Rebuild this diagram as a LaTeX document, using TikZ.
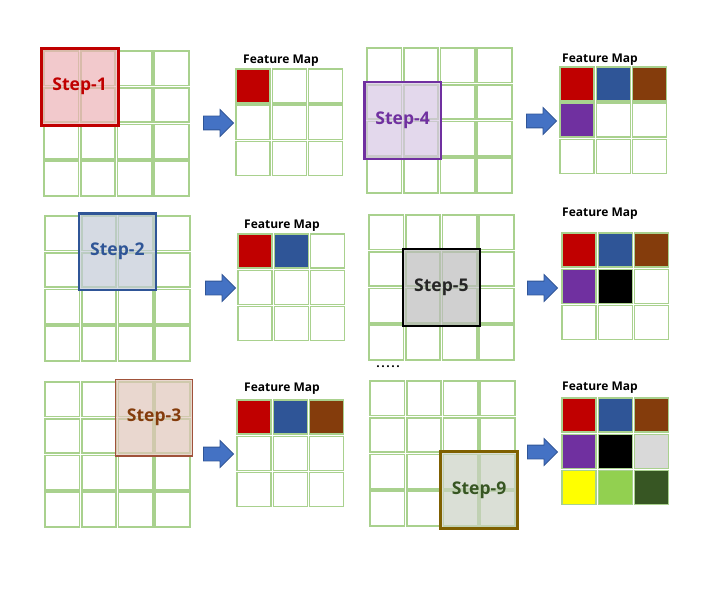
\documentclass[tikz,border=0pt]{standalone}
\usepackage{fontspec}
\setmainfont{Open Sans}
\usetikzlibrary{positioning, fit, shapes.arrows}

\definecolor{cellgreen}{HTML}{A9D18E}
\definecolor{fmred}{HTML}{C00000}
\definecolor{fmblue}{HTML}{2F5597}
\definecolor{fmbrown}{HTML}{843C0C}
\definecolor{fmpurple}{HTML}{7030A0}
\definecolor{fmgray}{HTML}{D9D9D9}
\definecolor{fmyellow}{HTML}{FFFF00}
\definecolor{fmlime}{HTML}{92D050}
\definecolor{fmdark}{HTML}{375623}
\definecolor{arrowblue}{HTML}{4472C4}
\definecolor{arrowedge}{HTML}{2F5597}
\definecolor{olive9}{HTML}{7F6000}
\definecolor{edge3}{HTML}{A0523A}

\begin{document}
\begin{tikzpicture}[
    x=1pt, y=-1pt,
    cell/.style={draw=cellgreen, line width=1.6pt, minimum size=34.5pt, inner sep=0pt},
    fmcell/.style={draw=cellgreen, line width=1.6pt, minimum size=34pt, inner sep=0pt},
    fmlabel/.style={font=\bfseries\fontsize{12}{14}\selectfont, inner sep=0pt},
    stepbox/.style={inner sep=2pt, line width=2.6pt, fill opacity=0.7},
    steptext/.style={font=\bfseries\fontsize{17.5}{20}\selectfont, fill opacity=1, text opacity=1},
    slide/.style={single arrow, draw=arrowedge, fill=arrowblue, line width=0.8pt, minimum height=30pt, inner xsep=0pt, inner ysep=6.5pt, single arrow head extend=6.5pt}
]
    \useasboundingbox (0,0) rectangle (709,591);

    % --- Input grids, feature maps and arrows ---
    \foreach \p/\gx/\gy/\fx/\fy/\lx/\ly/\ax/\ay in {
        1/44/51/236/69/281/61/215/123,
        2/45/216/238/234/282/226/217/288,
        3/45/382/237/400/282/389/215/454,
        4/367/48/560/67/600/60/538/121,
        5/369/215/562/233/600/214/539/288,
        9/370/381/562/398/600/388/539/452} {
        \foreach \r in {0,...,3}
            \foreach \c in {0,...,3}
                \node[cell] (g\p-\r\c) at (\gx+\c*36.75+17.25, \gy+\r*36.75+17.25) {};
        \foreach \k in {0,...,8} {
            \pgfmathtruncatemacro\r{int(\k/3)}
            \pgfmathtruncatemacro\c{mod(\k,3)}
            \ifnum\k<\p
                \pgfmathsetmacro\col{{"fmred","fmblue","fmbrown","fmpurple","black","fmgray","fmyellow","fmlime","fmdark"}[\k]}
            \else
                \def\col{white}
            \fi
            \node[fmcell, fill=\col] (f\p-\r\c) at (\fx+\c*36.3+17, \fy+\r*36.3+17) {};
        }
        \node[fmlabel] (lab\p) at (\lx,\ly) {Feature Map};
        \node[slide] (arr\p) at (\ax,\ay) {};
    }

    % --- Sliding windows ---
    \node[stepbox, fit=(g1-00)(g1-11), draw=fmred, line width=3pt, fill={rgb,255:red,236;green,178;blue,182},
        label={[steptext, text=fmred]center:Step-1}] (step1) {};
    \node[stepbox, fit=(g2-01)(g2-12), draw=fmblue, fill={rgb,255:red,195;green,202;blue,215},
        label={[steptext, text=fmblue]center:Step-2}] (step2) {};
    \node[stepbox, fit=(g3-02)(g3-13), draw=edge3, line width=1.3pt, fill={rgb,255:red,224;green,198;blue,186},
        label={[steptext, text=fmbrown]center:Step-3}] (step3) {};
    \node[stepbox, fit=(g4-10)(g4-21), draw=fmpurple, fill={rgb,255:red,215;green,199;blue,228},
        label={[steptext, text=fmpurple]center:Step-4}] (step4) {};
    \node[stepbox, fit=(g5-11)(g5-22), draw=black, fill={rgb,255:red,188;green,188;blue,188},
        label={[steptext, text=black!85]center:Step-5}] (step5) {};
    \node[stepbox, fit=(g9-22)(g9-33), draw=olive9, fill={rgb,255:red,202;green,209;blue,196},
        label={[steptext, text=fmdark]center:Step-9}] (step9) {};

    \node[font=\bfseries\fontsize{12}{14}\selectfont, inner sep=0pt] (dots) at (388,367) {.\hspace{1.6pt}.\hspace{1.6pt}.\hspace{1.6pt}.\hspace{1.6pt}.};
\end{tikzpicture}
\end{document}
